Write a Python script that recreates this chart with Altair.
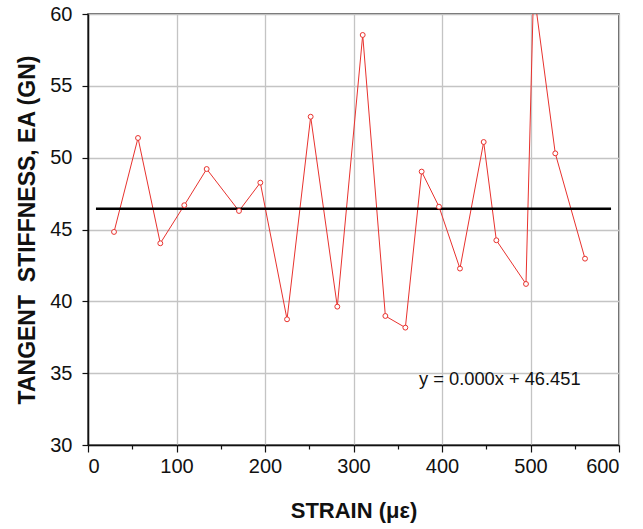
import altair as alt
import pandas as pd

strain = [29.4, 56.5, 81.7, 108.8, 134.1, 170.6, 194.7, 224.9, 251.6, 281.7,
          310.4, 336.0, 358.6, 377.0, 396.6, 420.3, 447.1, 461.4, 494.9, 503.5,
          528.0, 561.6]
stiffness = [44.83, 51.37, 44.04, 46.69, 49.21, 46.29, 48.26, 38.75, 52.85, 39.63,
             58.54, 38.98, 38.17, 49.03, 46.59, 42.28, 51.09, 44.25, 41.21, 61.7,
             50.30, 42.97]
fit_x = [9, 591]
fit_y = [46.451, 46.451]
eq_label = ["y = 0.000x + 46.451"]
eq_x = [374]
eq_y = [34.5]

df = pd.DataFrame({"strain": strain, "ea": stiffness})
fit = pd.DataFrame({"x": [fit_x[0]], "x2": [fit_x[1]], "y": [fit_y[0]]})
eq = pd.DataFrame({"x": eq_x, "y": eq_y, "t": eq_label})

FONT = "Liberation Sans"
RED = "#e8322e"

xscale = alt.Scale(domain=[0, 600], nice=False)
yscale = alt.Scale(domain=[30, 60], nice=False)

xaxis = alt.Axis(
    values=list(range(0, 601, 50)),
    labelExpr="datum.value % 100 === 0 ? datum.label : ''",
    tickSize={"condition": {"test": "datum.value % 100 === 0", "value": 7}, "value": 4},
    gridOpacity={"condition": {"test": "datum.value % 100 === 0", "value": 1}, "value": 0},
    title="STRAIN (με)",
)
yaxis = alt.Axis(
    values=[30 + 2.5 * i for i in range(13)],
    labelExpr="datum.value % 5 === 0 ? datum.label : ''",
    tickSize={"condition": {"test": "datum.value % 5 === 0", "value": 6}, "value": 4},
    gridOpacity={"condition": {"test": "datum.value % 5 === 0", "value": 1}, "value": 0},
    title="TANGENT\u00a0 STIFFNESS, EA (GN)",
)

base = alt.Chart(df)
line = base.mark_line(color=RED, strokeWidth=1, clip=True).encode(
    x=alt.X("strain:Q", scale=xscale, axis=xaxis),
    y=alt.Y("ea:Q", scale=yscale, axis=yaxis),
)
pts = base.mark_point(shape="circle", size=24, color=RED, fill="white", filled=False,
                      strokeWidth=1, opacity=1, clip=True).encode(
    x=alt.X("strain:Q", scale=xscale),
    y=alt.Y("ea:Q", scale=yscale),
)
rule = alt.Chart(fit).mark_rule(color="black", strokeWidth=2.5).encode(
    x=alt.X("x:Q", scale=xscale), x2="x2:Q", y=alt.Y("y:Q", scale=yscale)
)
text = alt.Chart(eq).mark_text(align="left", baseline="middle", font=FONT,
                               fontSize=18.3, color="#111").encode(
    x=alt.X("x:Q", scale=xscale), y=alt.Y("y:Q", scale=yscale), text="t:N"
)

chart = alt.layer(line, rule, pts, text).properties(
    width=531, height=431,
    padding={"left": 88, "top": 14, "right": 24, "bottom": 84},
    autosize=alt.AutoSizeParams(type="none"),
    background="white",
).configure_view(
    stroke="#333333", strokeWidth=1.5
).configure_axis(
    domainColor="#111111", domainWidth=1.5,
    tickColor="#111111", tickWidth=1.2,
    gridColor="#c4c4c4", gridWidth=1.3,
    labelFont=FONT, labelFontSize=20, labelColor="#111111",
    titleFont=FONT, titleFontSize=22, titleFontWeight="bold", titleColor="#111111",
).configure_axisX(
    labelPadding=4, titlePadding=24,
).configure_axisY(
    labelPadding=10, titlePadding=10, titleFontSize=23,
)

chart.save("out.html", embed_options={"renderer": "svg", "actions": False})
